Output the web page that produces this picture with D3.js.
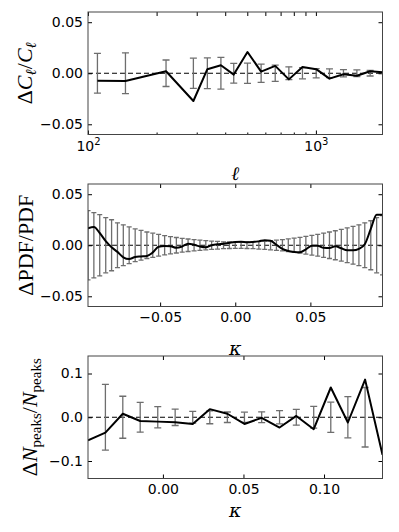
<!DOCTYPE html>
<html>
<head>
<meta charset="utf-8">
<script src="https://cdn.jsdelivr.net/npm/d3@7"></script>
<style>
  body { margin: 0; background: #fff; }
  .tick text { font-family: "DejaVu Sans", sans-serif; font-size: 14px; fill: #000; }
  .math { font-family: "Liberation Serif", "DejaVu Serif", serif; fill: #000; }
  .xlab { font-family: "DejaVu Serif", serif; fill: #000; }
</style>
</head>
<body>
<div id="chart"></div>
<script>
// panel 1: power spectrum residuals
const clEll = [110, 146, 220, 290, 334, 383, 436, 501, 575, 663, 761, 873, 1003, 1147, 1321, 1513, 1730, 1960];
const clDelta = [-0.0073, -0.0075, 0.002, -0.0272, 0.004, 0.0078, -0.0013, 0.0208, 0.0016, 0.0072, -0.006, 0.0062, 0.004, -0.0053, -0.001, -0.0024, 0.002, 0.001];
const clSigma = [0.0195, 0.020, 0.013, 0.0148, 0.015, 0.0155, 0.0096, 0.010, 0.009, 0.008, 0.0063, 0.0055, 0.0046, 0.0043, 0.0036, 0.0033, 0.0027, null];

// panel 2: PDF residuals
const pdfKappa = [-0.098, -0.0941, -0.0902, -0.0862, -0.0823, -0.0784, -0.0745, -0.0706, -0.0666, -0.0627,
  -0.0588, -0.0549, -0.0510, -0.0470, -0.0431, -0.0392, -0.0353, -0.0314, -0.0274, -0.0235,
  -0.0196, -0.0157, -0.0118, -0.0078, -0.0039, 0, 0.0039, 0.0078, 0.0118, 0.0157,
  0.0196, 0.0235, 0.0274, 0.0314, 0.0353, 0.0392, 0.0431, 0.0470, 0.0510, 0.0549,
  0.0588, 0.0627, 0.0666, 0.0706, 0.0745, 0.0784, 0.0823, 0.0862, 0.0902, 0.0941, 0.098];
const pdfDelta = [0.0165, 0.0178, 0.012, 0.004, -0.002, -0.0065, -0.0118, -0.0135, -0.0115, -0.011,
  -0.0105, -0.007, -0.0015, -0.0007, -0.001, -0.0025, -0.0012, 0.0015, 0.0005, -0.0012,
  -0.002, 0, 0.001, 0.0015, 0.0025, 0.0033, 0.0034, 0.003, 0.0033, 0.0038,
  0.005, 0.0045, 0.0005, -0.0035, -0.0056, -0.0065, -0.0068, -0.004, -0.0005, -0.0005,
  -0.0025, -0.0028, -0.001, -0.003, -0.005, -0.005, -0.0035, 0.001, 0.016, 0.030, 0.030];
const pdfSigma = [0.034, 0.032, 0.030, 0.027, 0.025, 0.022, 0.020, 0.018, 0.016, 0.0145,
  0.013, 0.0118, 0.0106, 0.0095, 0.0085, 0.0076, 0.0068, 0.0061, 0.0055, 0.005,
  0.0045, 0.0041, 0.0037, 0.0034, 0.0032, 0.0031, 0.0031, 0.0032, 0.0034, 0.0037,
  0.0041, 0.0045, 0.005, 0.0056, 0.0062, 0.0069, 0.0077, 0.0086, 0.0096, 0.0107,
  0.0119, 0.013, 0.0142, 0.0155, 0.017, 0.0185, 0.020, 0.022, 0.024, 0.027, 0.029];

// panel 3: peak count residuals
const peakKappa = [-0.0465, -0.0357, -0.0249, -0.0141, -0.0032, 0.0076, 0.0185, 0.0291, 0.040, 0.0506, 0.0613, 0.0724, 0.0828, 0.0936, 0.1042, 0.1148, 0.1255, 0.1363];
const peakDelta = [-0.053, -0.035, 0.008, -0.0085, -0.010, -0.0113, -0.0155, 0.0185, 0.008, -0.0153, -0.0013, -0.0235, 0.003, -0.0273, 0.068, -0.012, 0.086, -0.086];
const peakSigma = [null, 0.075, 0.048, 0.034, 0.0245, 0.0188, 0.0134, 0.0148, 0.012, 0.0115, 0.0125, 0.015, 0.018, 0.025, 0.0345, 0.047, 0.068, null];

// tick values
const clTicksY = [-0.05, 0, 0.05];
const pdfTicksX = [-0.05, 0, 0.05];
const pdfTicksY = [-0.05, 0, 0.05];
const peakTicksX = [0, 0.05, 0.1];
const peakTicksY = [-0.1, 0, 0.1];

const W = 399, H = 532;
const left = 88, right = 382.5;

const svg = d3.select("#chart").append("svg")
  .attr("width", W).attr("height", H);

function drawPanel(p) {
  const x = p.x.range([left, right]);
  const y = d3.scaleLinear().domain(p.yDomain).range([p.bottom, p.top]);
  const g = svg.append("g");

  const clipId = "clip" + p.id;
  svg.append("defs").append("clipPath").attr("id", clipId)
    .append("rect")
    .attr("x", left).attr("y", p.top)
    .attr("width", right - left).attr("height", p.bottom - p.top);

  const plot = g.append("g").attr("clip-path", `url(#${clipId})`);

  // dashed zero line
  plot.append("line")
    .attr("x1", left).attr("x2", right)
    .attr("y1", y(0)).attr("y2", y(0))
    .attr("stroke", "#000").attr("stroke-width", 1)
    .attr("stroke-dasharray", "5,3");

  // error bars, centred on zero
  const pts = p.xs.map((v, i) => ({ x: v, d: p.ds[i], s: p.ss[i] }));
  const bars = plot.append("g")
    .attr("stroke", "#6e6e6e").attr("stroke-width", 1.3).attr("fill", "none");
  pts.filter(d => d.s != null).forEach(d => {
    const cx = x(d.x);
    bars.append("line").attr("x1", cx).attr("x2", cx).attr("y1", y(-d.s)).attr("y2", y(d.s));
    bars.append("line").attr("x1", cx - p.cap).attr("x2", cx + p.cap).attr("y1", y(d.s)).attr("y2", y(d.s));
    bars.append("line").attr("x1", cx - p.cap).attr("x2", cx + p.cap).attr("y1", y(-d.s)).attr("y2", y(-d.s));
  });

  // residual line
  plot.append("path")
    .datum(pts)
    .attr("fill", "none").attr("stroke", "#000").attr("stroke-width", 2)
    .attr("stroke-linejoin", "round")
    .attr("d", d3.line().x(d => x(d.x)).y(d => y(d.d)).curve(p.curve || d3.curveLinear));

  // axes with inward ticks
  const ax = g.append("g").attr("transform", `translate(0,${p.bottom})`)
    .call(p.xAxis(d3.axisBottom(x)).tickSizeInner(-4).tickSizeOuter(0).tickPadding(6));
  g.append("g").attr("transform", `translate(0,${p.top})`)
    .call(p.xAxis(d3.axisTop(x)).tickSizeInner(-4).tickSizeOuter(0).tickFormat(""));
  g.append("g").attr("transform", `translate(${left},0)`)
    .call(d3.axisLeft(y).tickValues(p.yTicks).tickFormat(d3.format(p.yFmt))
      .tickSizeInner(-4).tickSizeOuter(0).tickPadding(5));
  g.append("g").attr("transform", `translate(${right},0)`)
    .call(d3.axisRight(y).tickValues(p.yTicks).tickFormat("")
      .tickSizeInner(-4).tickSizeOuter(0));
  g.selectAll(".domain").remove();
  g.selectAll(".tick line").attr("stroke", "#000");
  if (p.afterX) p.afterX(ax, x);

  // frame
  g.append("rect")
    .attr("x", left).attr("y", p.top)
    .attr("width", right - left).attr("height", p.bottom - p.top)
    .attr("fill", "none").attr("stroke", "#444").attr("stroke-width", 1);

  // x label
  g.append("text").attr("class", "xlab")
    .attr("x", (left + right) / 2).attr("y", p.xLabelY)
    .attr("text-anchor", "middle").attr("font-size", 19).attr("font-style", "italic")
    .attr("font-weight", "normal")
    .text(p.xLabel);

  // y label
  const yl = g.append("text").attr("class", "math")
    .attr("transform", `translate(${p.yLabelX},${(p.top + p.bottom) / 2}) rotate(-90)`)
    .attr("text-anchor", "middle").attr("font-size", 22);
  p.yLabel.forEach(part => {
    const t = yl.append("tspan").text(part.t);
    if (part.i) t.attr("font-style", "italic");
    if (part.sub) t.attr("font-size", 15).attr("dy", 4);
    if (part.up) t.attr("dy", -4);
  });
}

// panel 1
drawPanel({
  id: 1, top: 12, bottom: 134.5,
  x: d3.scaleLog().domain([100, 1960]),
  xAxis: a => a.tickValues([100, 200, 300, 400, 500, 600, 700, 800, 900, 1000]).tickFormat(""),
  afterX: (ax, x) => {
    ax.selectAll(".tick").each(function (d) {
      const major = d === 100 || d === 1000;
      const t = d3.select(this);
      if (!major) t.select("line").attr("y2", -2);
      else {
        const txt = t.select("text").text("").attr("dy", null).attr("y", 16);
        txt.append("tspan").text("10");
        txt.append("tspan").text(d === 100 ? "2" : "3").attr("font-size", 10).attr("dy", -6);
      }
    });
  },
  yDomain: [-0.06, 0.06], yTicks: clTicksY, yFmt: ".2f",
  xs: clEll, ds: clDelta, ss: clSigma, cap: 3.5,
  xLabel: "ℓ", xLabelY: 180,
  yLabelX: 32,
  yLabel: [{ t: "Δ" }, { t: "C", i: true }, { t: "ℓ", i: true, sub: true }, { t: "/", up: true },
    { t: "C", i: true }, { t: "ℓ", i: true, sub: true }]
});

// panel 2
drawPanel({
  id: 2, top: 184, bottom: 306.5,
  x: d3.scaleLinear().domain([-0.098, 0.098]),
  xAxis: a => a.tickValues(pdfTicksX).tickFormat(d3.format(".2f")),
  yDomain: [-0.06, 0.06], yTicks: pdfTicksY, yFmt: ".2f",
  xs: pdfKappa, ds: pdfDelta, ss: pdfSigma, cap: 2.5,
  curve: d3.curveMonotoneX,
  xLabel: "κ", xLabelY: 355,
  yLabelX: 33,
  yLabel: [{ t: "ΔPDF/PDF" }]
});

// panel 3
drawPanel({
  id: 3, top: 356, bottom: 478.5,
  x: d3.scaleLinear().domain([-0.0465, 0.1363]),
  xAxis: a => a.tickValues(peakTicksX).tickFormat(d3.format(".2f")),
  yDomain: [-0.14, 0.14], yTicks: peakTicksY, yFmt: ".1f",
  xs: peakKappa, ds: peakDelta, ss: peakSigma, cap: 3.5,
  xLabel: "κ", xLabelY: 517,
  yLabelX: 37,
  yLabel: [{ t: "Δ" }, { t: "N", i: true }, { t: "peaks", sub: true }, { t: "/", up: true },
    { t: "N", i: true }, { t: "peaks", sub: true }]
});
</script>
</body>
</html>
